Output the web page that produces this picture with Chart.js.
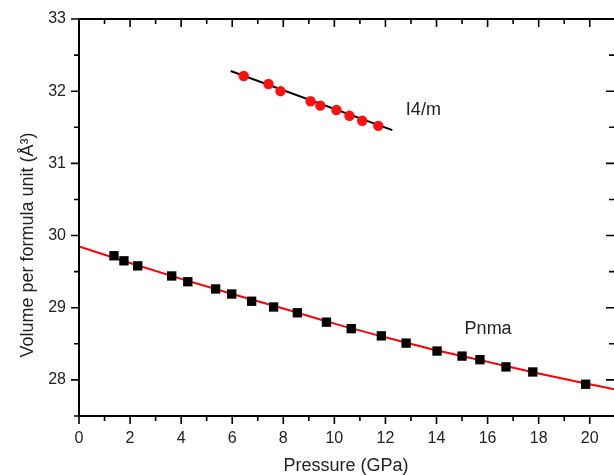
<!DOCTYPE html>
<html>
<head>
<meta charset="utf-8">
<script src="https://cdn.jsdelivr.net/npm/chart.js@4.4.1/dist/chart.umd.min.js"></script>
<style>
  html, body { margin: 0; padding: 0; background: #fff; overflow: hidden; }
  #wrap { width: 614px; height: 475px; }
  canvas { display: block; }
</style>
</head>
<body>
<div id="wrap"><canvas id="eosChart" width="614" height="475"></canvas></div>
<script>
// Pnma phase: measured volumes (black squares)
const pnmaPressure = [1.37, 1.76, 2.30, 3.63, 4.26, 5.35, 5.98, 6.76, 7.62, 8.55, 9.69, 10.66, 11.84, 12.81, 14.02, 15.00, 15.70, 16.72, 17.77, 19.84];
const pnmaVolume = [29.72, 29.65, 29.58, 29.44, 29.36, 29.26, 29.19, 29.09, 29.01, 28.93, 28.80, 28.71, 28.61, 28.51, 28.40, 28.33, 28.28, 28.18, 28.11, 27.94];

// Pnma fitted curve (red line)
const pnmaFitPressure = [0, 2, 4, 6, 8, 10, 12, 14, 16, 18, 20, 20.95];
const pnmaFitVolume = [29.85, 29.62, 29.40, 29.19, 28.99, 28.78, 28.59, 28.41, 28.25, 28.09, 27.94, 27.87];

// I4/m phase: measured volumes (red circles)
const i4mPressure = [6.45, 7.42, 7.89, 9.07, 9.45, 10.08, 10.59, 11.09, 11.72];
const i4mVolume = [32.21, 32.10, 32.00, 31.86, 31.80, 31.74, 31.66, 31.59, 31.52];

// I4/m fitted line (black)
const i4mFitPressure = [5.94, 12.27];
const i4mFitVolume = [32.28, 31.46];

// axis ticks
const xTickLabels = [0, 2, 4, 6, 8, 10, 12, 14, 16, 18, 20];
const yTickLabels = [28, 29, 30, 31, 32, 33];

const toPoints = (xs, ys) => xs.map((x, i) => ({ x: x, y: ys[i] }));
const isLabel = (list, v) => list.some(t => Math.abs(t - v) < 1e-6);

const FONT = "'Liberation Sans', Arial, Helvetica, sans-serif";

// frame, inward/outward ticks, titles and phase labels
const framePlugin = {
    id: 'frame',
    afterDraw(chart) {
        const ctx = chart.ctx;
        const xs = chart.scales.x, ys = chart.scales.y;
        const a = chart.chartArea;
        ctx.save();
        ctx.strokeStyle = '#000';
        ctx.lineWidth = 2;
        ctx.beginPath();
        ctx.moveTo(a.left, a.top); ctx.lineTo(a.left, a.bottom + 1);
        ctx.moveTo(a.left - 1, a.bottom); ctx.lineTo(a.right, a.bottom);
        ctx.moveTo(a.left - 1, a.top); ctx.lineTo(a.right, a.top);
        ctx.stroke();

        ctx.lineWidth = 1.6;
        ctx.beginPath();
        for (let v = 0; v <= 21; v++) {
            const px = xs.getPixelForValue(v);
            if (px > a.right) break;
            const len = v % 2 === 0 ? 8 : 5;
            ctx.moveTo(px, a.bottom); ctx.lineTo(px, a.bottom + len);
            ctx.moveTo(px, a.top); ctx.lineTo(px, a.top + len);
        }
        for (let v = 27.5; v <= 33.001; v += 0.5) {
            const py = ys.getPixelForValue(v);
            const len = Number.isInteger(v) ? 8 : 5;
            ctx.moveTo(a.left, py); ctx.lineTo(a.left - len, py);
            ctx.moveTo(a.right, py); ctx.lineTo(a.right - len, py);
        }
        ctx.stroke();

        ctx.fillStyle = '#222';
        ctx.font = '18px ' + FONT;
        ctx.textAlign = 'center';
        ctx.textBaseline = 'alphabetic';
        ctx.fillText('Pressure (GPa)', 346, 471);

        ctx.save();
        ctx.translate(33, 245);
        ctx.rotate(-Math.PI / 2);
        ctx.fillText('Volume per formula unit (Å³)', 0, 0);
        ctx.restore();

        ctx.textAlign = 'left';
        ctx.textBaseline = 'middle';
        ctx.fillText('I4/m', xs.getPixelForValue(12.8), ys.getPixelForValue(31.74));
        ctx.fillText('Pnma', xs.getPixelForValue(15.1), ys.getPixelForValue(28.71));
        ctx.restore();
    }
};

const ctxEos = document.getElementById('eosChart').getContext('2d');
const eosChart = new Chart(ctxEos, {
    type: 'scatter',
    data: {
        datasets: [{
            label: 'Pnma',
            data: toPoints(pnmaPressure, pnmaVolume),
            pointStyle: 'rect',
            pointRadius: 6.6,
            backgroundColor: '#000',
            borderColor: '#000',
            borderWidth: 0,
            order: 1
        }, {
            label: 'Pnma fit',
            data: toPoints(pnmaFitPressure, pnmaFitVolume),
            showLine: true,
            pointRadius: 0,
            borderColor: '#ff0000',
            borderWidth: 2,
            cubicInterpolationMode: 'monotone',
            order: 2
        }, {
            label: 'I4/m',
            data: toPoints(i4mPressure, i4mVolume),
            pointStyle: 'circle',
            pointRadius: 5.2,
            backgroundColor: '#ff1010',
            borderColor: '#ff1010',
            borderWidth: 0,
            order: 3
        }, {
            label: 'I4/m fit',
            data: toPoints(i4mFitPressure, i4mFitVolume),
            showLine: true,
            pointRadius: 0,
            borderColor: '#000',
            borderWidth: 2,
            order: 4
        }]
    },
    options: {
        responsive: false,
        animation: false,
        layout: { autoPadding: false, padding: { top: 19, right: 0, bottom: 0, left: 0 } },
        plugins: {
            legend: { display: false },
            tooltip: { enabled: false }
        },
        scales: {
            x: {
                type: 'linear',
                min: 0,
                max: 20.95,
                afterFit: s => { s.height = 59; s.paddingRight = 0; },
                grid: { display: false, drawTicks: false },
                border: { display: false },
                ticks: {
                    stepSize: 1,
                    includeBounds: false,
                    autoSkip: false,
                    maxRotation: 0,
                    padding: 13,
                    color: '#222',
                    font: { family: FONT, size: 16 },
                    callback: v => isLabel(xTickLabels, v) ? v : null
                }
            },
            y: {
                type: 'linear',
                min: 27.5,
                max: 33,
                afterFit: s => { s.width = 79; s.paddingTop = 0; },
                grid: { display: false, drawTicks: false },
                border: { display: false },
                ticks: {
                    stepSize: 0.5,
                    autoSkip: false,
                    padding: 13,
                    color: '#222',
                    font: { family: FONT, size: 16 },
                    callback: v => isLabel(yTickLabels, v) ? v : null
                }
            }
        }
    },
    plugins: [framePlugin]
});
</script>
</body>
</html>
